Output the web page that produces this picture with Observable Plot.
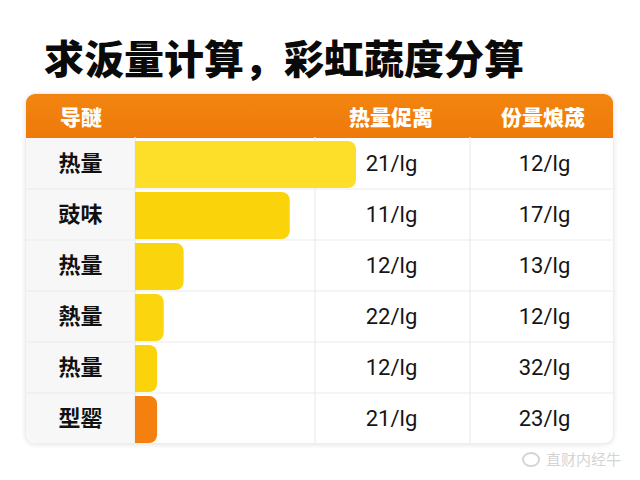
<!DOCTYPE html>
<html><head><meta charset="utf-8">
<script src="https://cdn.jsdelivr.net/npm/d3@7"></script>
<script src="https://cdn.jsdelivr.net/npm/@observablehq/plot@0.6"></script>
<style>
html,body{margin:0;padding:0;background:#fff;}
#wrap{position:relative;width:640px;height:480px;overflow:hidden;background:#fff;font-family:"Noto Sans CJK SC",sans-serif;}
#title{position:absolute;left:44px;top:35px;font-size:40px;line-height:44px;font-weight:900;color:#0a0a0a;white-space:nowrap;}
#panel{position:absolute;left:25px;top:93px;width:589px;height:351px;border-radius:10px;background:#fff;box-shadow:0 1px 5px rgba(0,0,0,0.10);border:1px solid #f1ede8;box-sizing:border-box;overflow:hidden;}
#head{position:absolute;left:0;top:0;right:0;height:44px;background:linear-gradient(180deg,#F3850F,#EE790B);}
#labcol{position:absolute;left:0;top:44px;width:110px;bottom:0;background:#F7F7F7;}
.hd{position:absolute;top:0;height:44px;line-height:44px;color:#fff;font-weight:900;font-size:21px;transform:translateX(-50%);white-space:nowrap;}
#chart{position:absolute;left:0;top:0;}
#wm{position:absolute;left:522px;top:448px;font-size:15px;color:#d4d4d4;white-space:nowrap;}
#wm .logo{display:inline-block;width:14px;height:11px;border:2px solid #d4d4d4;border-radius:50%;vertical-align:-2px;margin-right:6px;}
</style></head>
<body>
<div id="wrap">
  <div id="title"></div>
  <div id="panel">
    <div id="head"></div>
    <div id="labcol"></div>
  </div>
  <div id="chart"></div>
  <div id="wm"><span class="logo"></span>直财内经牛</div>
</div>
<script>
const titleText = "求汳量计算，彩虹蔬度分算";
const headerLabels = ["导醚", "热量促离", "份量烺荿"];
const rowLabels = ["热量", "豉味", "热量", "熱量", "热量", "型罂"];
const barValues = [100, 70, 22, 13, 10, 10];
const caloriesPer = [21, 11, 12, 22, 12, 21];
const portionPer = [12, 17, 13, 12, 32, 23];
const unit = "lg";
const barColors = ["#FDDF2A", "#FAD30A", "#FAD40C", "#FBD60E", "#FAD30C", "#F4800F"];

document.getElementById("title").textContent = titleText;
const headCenters = [55, 365, 517];
const head = document.getElementById("head");
headerLabels.forEach((t, i) => {
  const s = document.createElement("span");
  s.className = "hd"; s.textContent = t; s.style.left = headCenters[i] + "px";
  head.appendChild(s);
});

const ids = d3.range(rowLabels.length);
const rows = ids.map(i => ({id: i, label: rowLabels[i], bar: barValues[i], v1: caloriesPer[i], v2: portionPer[i]}));

const valueFont = {fontFamily: "Roboto, sans-serif", fontSize: 22, fill: "#151515", textAnchor: "middle", frameAnchor: "left", style: "letter-spacing:1px"};

const chart = Plot.plot({
  width: 640, height: 480,
  marginTop: 137, marginBottom: 36, marginLeft: 25, marginRight: 26,
  style: {background: "transparent", overflow: "visible"},
  x: {domain: [0, 100], range: [135, 356], axis: null},
  y: {domain: ids, axis: null, paddingInner: 0, paddingOuter: 0},
  marks: [
    Plot.barX(rows, {y: "id", x: "bar", fill: d => barColors[d.id], rx: 8, insetTop: 3, insetBottom: 1}),
    Plot.barX(rows, {y: "id", x: d => Math.min(d.bar, 5), fill: d => barColors[d.id], insetTop: 3, insetBottom: 1}),
    Plot.text(rows, {y: "id", text: "label", frameAnchor: "left", dx: 55, textAnchor: "middle", fontSize: 22, fontWeight: 600, fill: "#111", fontFamily: "Noto Sans CJK SC"}),
    Plot.text(rows, {y: "id", text: d => d.v1 + "/" + unit, dx: 366, ...valueFont}),
    Plot.text(rows, {y: "id", text: d => d.v2 + "/" + unit, dx: 519, ...valueFont})
  ]
});

const ys = chart.scale("y");
const svg = d3.select(chart);
const g = svg.insert("g", ":first-child").attr("stroke", "#ebebeb").attr("stroke-width", 1.2);
const [yTop, yBot] = ys.range;
ids.slice(1).forEach(i => {
  const yy = ys.apply(i);
  g.append("line").attr("x1", 26).attr("x2", 613).attr("y1", yy).attr("y2", yy);
});
[135, 315, 470].forEach(xx => g.append("line").attr("x1", xx).attr("x2", xx).attr("y1", yTop).attr("y2", yBot - 1));
document.getElementById("chart").appendChild(chart);
</script>
</body></html>
